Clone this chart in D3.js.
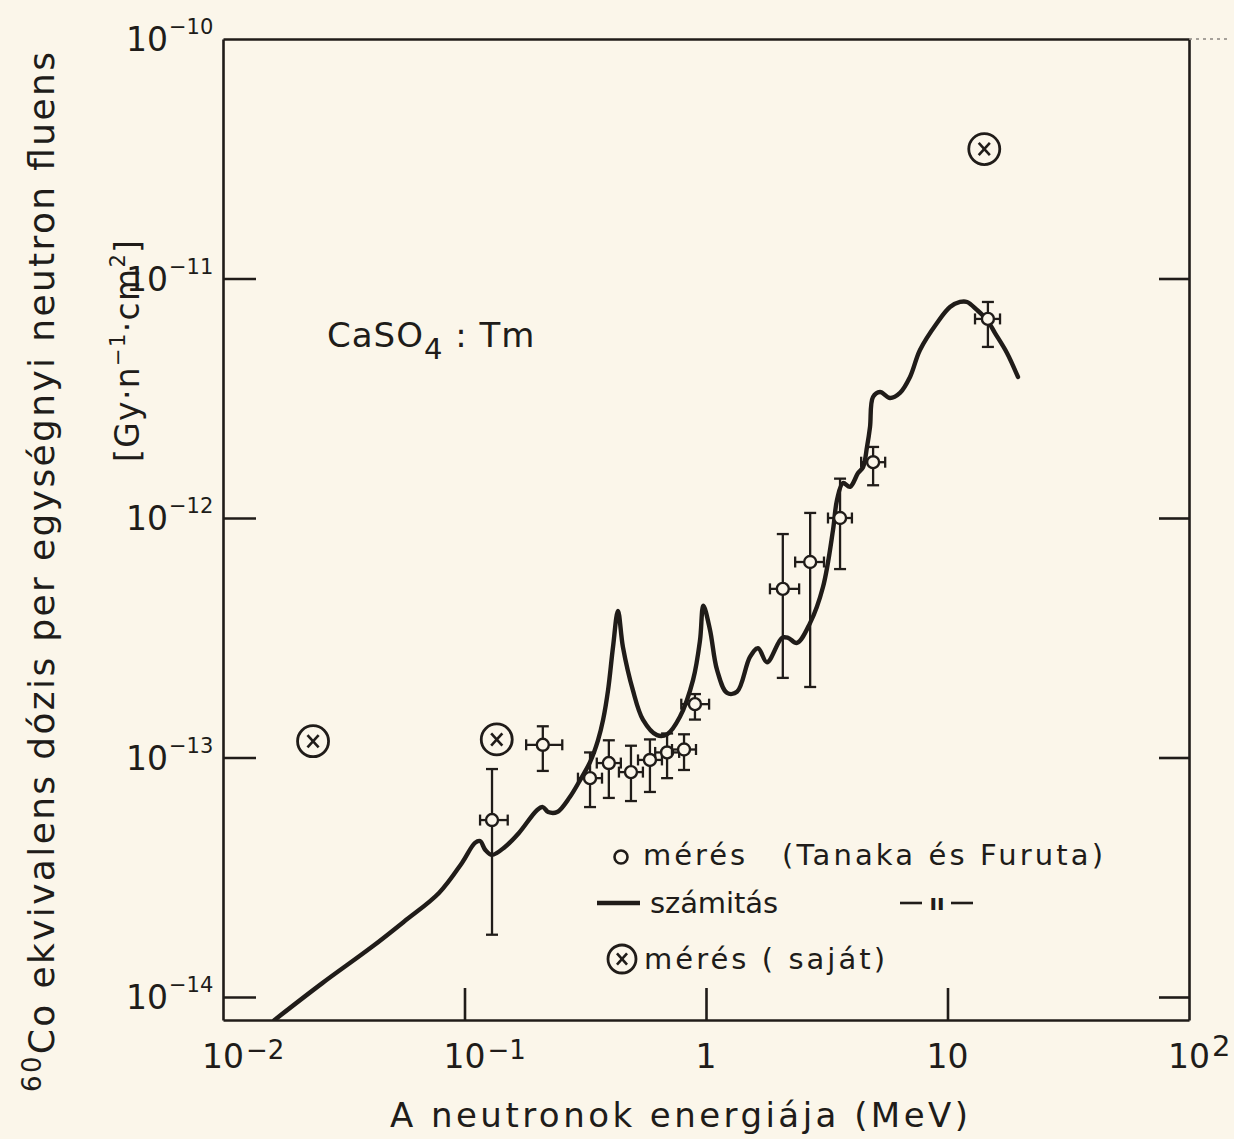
<!DOCTYPE html>
<html>
<head>
<meta charset="utf-8">
<script src="https://cdn.jsdelivr.net/npm/d3@7"></script>
<style>
  body { margin: 0; background: #fbf6ea; }
  svg { display: block; }
  text { font-family: "DejaVu Sans", sans-serif; fill: #201c19; }
</style>
</head>
<body>
<svg id="chart"></svg>
<script>
// számitás (calculated curve)
const calcEnergy = [0.0163, 0.0257, 0.0414, 0.0567, 0.0784, 0.0976, 0.1105, 0.116, 0.122, 0.130, 0.147, 0.168, 0.200, 0.211, 0.222, 0.242, 0.273, 0.301, 0.331, 0.357, 0.375, 0.393, 0.412, 0.432, 0.453, 0.498, 0.548, 0.627, 0.690, 0.780, 0.884, 0.945, 0.975, 1.039, 1.111, 1.222, 1.344, 1.521, 1.642, 1.789, 2.064, 2.186, 2.381, 2.696, 3.051, 3.357, 3.487, 3.692, 3.947, 4.261, 4.469, 4.642, 4.777, 4.915, 5.254, 5.780, 6.358, 6.994, 7.692, 9.047, 10.24, 11.27, 12.04, 13.25, 14.58, 15.73, 17.63, 19.58];
const calcDose = [8.0e-15, 1.14e-14, 1.62e-14, 2.08e-14, 2.72e-14, 3.63e-14, 4.40e-14, 4.48e-14, 4.11e-14, 3.92e-14, 4.23e-14, 4.84e-14, 6.04e-14, 6.21e-14, 5.92e-14, 5.92e-14, 6.84e-14, 8.05e-14, 9.57e-14, 1.18e-13, 1.44e-13, 1.91e-13, 2.89e-13, 4.09e-13, 2.89e-13, 1.91e-13, 1.44e-13, 1.24e-13, 1.25e-13, 1.48e-13, 2.11e-13, 3.10e-13, 4.30e-13, 3.41e-13, 2.32e-13, 1.86e-13, 1.88e-13, 2.63e-13, 2.86e-13, 2.50e-13, 3.16e-13, 3.16e-13, 3.01e-13, 3.64e-13, 5.15e-13, 8.91e-13, 1.19e-12, 1.40e-12, 1.35e-12, 1.54e-12, 1.63e-12, 1.98e-12, 2.40e-12, 3.20e-12, 3.36e-12, 3.17e-12, 3.33e-12, 3.88e-12, 5.03e-12, 6.52e-12, 7.60e-12, 7.98e-12, 7.98e-12, 7.39e-12, 6.71e-12, 5.92e-12, 4.89e-12, 3.88e-12];

// mérés (Tanaka és Furuta) with error bars
const tanakaEnergy = [0.130, 0.211, 0.331, 0.396, 0.489, 0.586, 0.690, 0.811, 0.900, 2.08, 2.70, 3.59, 4.92, 14.7];
const tanakaEnergyLo = [0.116, 0.180, 0.295, 0.353, 0.436, 0.523, 0.616, 0.723, 0.790, 1.84, 2.34, 3.20, 4.39, 13.0];
const tanakaEnergyHi = [0.151, 0.254, 0.371, 0.444, 0.548, 0.657, 0.774, 0.909, 1.03, 2.43, 3.08, 4.02, 5.52, 16.5];
const tanakaDose = [5.48e-14, 1.13e-13, 8.2e-14, 9.48e-14, 8.69e-14, 9.77e-14, 1.05e-13, 1.08e-13, 1.67e-13, 5.06e-13, 6.55e-13, 1.0e-12, 1.71e-12, 6.78e-12];
const tanakaDoseLo = [1.82e-14, 8.79e-14, 6.21e-14, 6.78e-14, 6.58e-14, 7.18e-14, 8.2e-14, 8.87e-14, 1.44e-13, 2.15e-13, 1.97e-13, 6.12e-13, 1.37e-12, 5.18e-12];
const tanakaDoseHi = [8.95e-14, 1.35e-13, 1.05e-13, 1.18e-13, 1.12e-13, 1.19e-13, 1.26e-13, 1.25e-13, 1.84e-13, 8.57e-13, 1.05e-12, 1.46e-12, 1.98e-12, 7.98e-12];

// mérés (saját)
const ownEnergy = [0.0236, 0.136, 14.2];
const ownDose = [1.17e-13, 1.19e-13, 3.47e-11];

const xTickValues = [0.01, 0.1, 1, 10, 100];
const xTickBase = ["10", "10", "1", "10", "10"];
const xTickExp = ["-2", "-1", "", "", "2"];
const yTickValues = [1e-10, 1e-11, 1e-12, 1e-13, 1e-14];
const yTickExp = ["-10", "-11", "-12", "-13", "-14"];

const width = 1234;
const height = 1139;
const ink = "#201c19";
const paper = "#fbf6ea";

const svg = d3.select("#chart")
  .attr("width", width)
  .attr("height", height);

svg.append("rect").attr("width", width).attr("height", height).attr("fill", paper);

const plotLeft = 223, plotRight = 1189, plotTop = 39, plotBottom = 1020;

const x = d3.scaleLog().domain([0.01, 100]).range([plotLeft, plotRight]);
const y = d3.scaleLog().domain([Math.pow(10, -14.096), 1e-10]).range([plotBottom, plotTop]);

// frame + inward ticks
const innerY = [1e-11, 1e-12, 1e-13, 1e-14];
const innerX = [0.1, 1, 10];

svg.append("g")
  .attr("transform", `translate(0,${plotBottom})`)
  .call(d3.axisBottom(x).tickValues(innerX).tickSize(-32).tickSizeOuter(0).tickFormat(""));
svg.append("g")
  .attr("transform", `translate(0,${plotTop})`)
  .call(d3.axisTop(x).tickValues([]).tickSizeOuter(0));
svg.append("g")
  .attr("transform", `translate(${plotLeft},0)`)
  .call(d3.axisLeft(y).tickValues(innerY).tickSize(-33).tickSizeOuter(0).tickFormat(""));
svg.append("g")
  .attr("transform", `translate(${plotRight},0)`)
  .call(d3.axisRight(y).tickValues(innerY).tickSize(-30).tickSizeOuter(0).tickFormat(""));

svg.selectAll(".domain, .tick line")
  .attr("stroke", ink)
  .attr("stroke-width", 2.6);

svg.append("line")
  .attr("x1", plotRight).attr("x2", plotRight + 38)
  .attr("y1", plotTop).attr("y2", plotTop)
  .attr("stroke", "#8a8580")
  .attr("stroke-width", 1.5)
  .attr("stroke-dasharray", "3,4");

// tick labels
xTickValues.forEach((v, i) => {
  const base = svg.append("text")
    .attr("x", x(v))
    .attr("y", 1068)
    .attr("text-anchor", "middle")
    .attr("font-size", 33)
    .text(xTickBase[i]);
  if (xTickExp[i]) {
    const bb = base.node().getBBox();
    svg.append("text")
      .attr("x", bb.x + bb.width + 2)
      .attr("y", xTickExp[i] === "2" ? 1056 : 1059)
      .attr("font-size", xTickExp[i] === "2" ? 29 : 26)
      .text(xTickExp[i].replace("-", "\u2212"));
  }
});

yTickValues.forEach((v, i) => {
  svg.append("text")
    .attr("x", 168)
    .attr("y", y(v) + 12)
    .attr("text-anchor", "end")
    .attr("font-size", 33)
    .text("10");
  svg.append("text")
    .attr("x", 169)
    .attr("y", y(v) - 5)
    .attr("font-size", 21)
    .text(yTickExp[i].replace("-", "\u2212"));
});

// calculated curve
const plot = svg.append("g");
svg.append("clipPath").attr("id", "clip")
  .append("rect")
  .attr("x", plotLeft).attr("y", plotTop)
  .attr("width", plotRight - plotLeft).attr("height", plotBottom - plotTop);

const calcData = calcEnergy.map((e, i) => ({ e, d: calcDose[i] }));
const line = d3.line()
  .x(d => x(d.e))
  .y(d => y(d.d))
  .curve(d3.curveCatmullRom.alpha(0.5));

plot.append("path")
  .datum(calcData)
  .attr("clip-path", "url(#clip)")
  .attr("d", line)
  .attr("fill", "none")
  .attr("stroke", ink)
  .attr("stroke-width", 4.4)
  .attr("stroke-linejoin", "round")
  .attr("stroke-linecap", "round");

// Tanaka points
const tanaka = tanakaEnergy.map((e, i) => ({
  e, d: tanakaDose[i],
  eLo: tanakaEnergyLo[i], eHi: tanakaEnergyHi[i],
  dLo: tanakaDoseLo[i], dHi: tanakaDoseHi[i]
}));

const pts = plot.selectAll(".pt")
  .data(tanaka)
  .join("g")
  .attr("class", "pt")
  .attr("stroke", ink)
  .attr("stroke-width", 2.3);

pts.append("line")
  .attr("x1", d => x(d.e)).attr("x2", d => x(d.e))
  .attr("y1", d => y(d.dLo)).attr("y2", d => y(d.dHi));
pts.append("line")
  .attr("x1", d => x(d.e) - 6).attr("x2", d => x(d.e) + 6)
  .attr("y1", d => y(d.dLo)).attr("y2", d => y(d.dLo));
pts.append("line")
  .attr("x1", d => x(d.e) - 6).attr("x2", d => x(d.e) + 6)
  .attr("y1", d => y(d.dHi)).attr("y2", d => y(d.dHi));
pts.append("line")
  .attr("x1", d => x(d.eLo)).attr("x2", d => x(d.eHi))
  .attr("y1", d => y(d.d)).attr("y2", d => y(d.d));
pts.append("line")
  .attr("x1", d => x(d.eLo)).attr("x2", d => x(d.eLo))
  .attr("y1", d => y(d.d) - 5.5).attr("y2", d => y(d.d) + 5.5);
pts.append("line")
  .attr("x1", d => x(d.eHi)).attr("x2", d => x(d.eHi))
  .attr("y1", d => y(d.d) - 5.5).attr("y2", d => y(d.d) + 5.5);
pts.append("circle")
  .attr("cx", d => x(d.e)).attr("cy", d => y(d.d))
  .attr("r", 6)
  .attr("fill", paper)
  .attr("stroke-width", 2.4);

// own measurements
function crossCircle(g, cx, cy, r) {
  g.append("circle").attr("cx", cx).attr("cy", cy).attr("r", r)
    .attr("fill", "none").attr("stroke", ink).attr("stroke-width", 2.8);
  const k = r * 0.36;
  g.append("line").attr("x1", cx - k).attr("x2", cx + k).attr("y1", cy - k * 1.1).attr("y2", cy + k * 1.1)
    .attr("stroke", ink).attr("stroke-width", 2.6);
  g.append("line").attr("x1", cx + k).attr("x2", cx - k).attr("y1", cy - k * 1.1).attr("y2", cy + k * 1.1)
    .attr("stroke", ink).attr("stroke-width", 2.6);
}
ownEnergy.forEach((e, i) => crossCircle(plot, x(e), y(ownDose[i]), 15.5));

// CaSO4 : Tm label
const lab = svg.append("text")
  .attr("x", 327).attr("y", 347)
  .attr("font-size", 34)
  .attr("letter-spacing", 1);
lab.append("tspan").text("CaSO");
lab.append("tspan").attr("dy", 12).attr("font-size", 29).text("4");
lab.append("tspan").attr("dy", -12).text(" : Tm");

// legend
svg.append("circle").attr("cx", 621).attr("cy", 857).attr("r", 6.5)
  .attr("fill", "none").attr("stroke", ink).attr("stroke-width", 2.6);
svg.append("text").attr("x", 643).attr("y", 865).attr("font-size", 29)
  .attr("textLength", 102).attr("lengthAdjust", "spacing").text("mérés");
svg.append("text").attr("x", 782).attr("y", 865).attr("font-size", 29)
  .attr("textLength", 321).attr("lengthAdjust", "spacing").text("(Tanaka és Furuta)");

svg.append("line").attr("x1", 597).attr("x2", 640).attr("y1", 903).attr("y2", 903)
  .attr("stroke", ink).attr("stroke-width", 4.4);
svg.append("text").attr("x", 650).attr("y", 913).attr("font-size", 29)
  .attr("textLength", 128).attr("lengthAdjust", "spacing").text("számitás");
svg.append("line").attr("x1", 900).attr("x2", 922).attr("y1", 903).attr("y2", 903)
  .attr("stroke", ink).attr("stroke-width", 2.6);
svg.append("line").attr("x1", 951).attr("x2", 973).attr("y1", 903).attr("y2", 903)
  .attr("stroke", ink).attr("stroke-width", 2.6);
svg.append("text").attr("x", 937).attr("y", 910).attr("font-size", 22)
  .attr("font-weight", "bold")
  .attr("text-anchor", "middle").text("ıı");

crossCircle(svg, 622, 959, 14);
svg.append("text").attr("x", 644).attr("y", 969).attr("font-size", 29)
  .attr("textLength", 241).attr("lengthAdjust", "spacing").text("mérés ( saját)");

// axis titles
svg.append("text")
  .attr("x", 390).attr("y", 1127)
  .attr("font-size", 34)
  .attr("textLength", 578).attr("lengthAdjust", "spacing")
  .text("A neutronok energiája  (MeV)");

const yt1 = svg.append("text")
  .attr("transform", "translate(54,1092) rotate(-90)")
  .attr("font-size", 36)
  .attr("textLength", 1040).attr("lengthAdjust", "spacing");
yt1.append("tspan").attr("font-size", 26).attr("dy", -13).text("60");
yt1.append("tspan").attr("dy", 13).text("Co ekvivalens dózis per egységnyi neutron fluens");

const yt2 = svg.append("text")
  .attr("transform", "translate(139,462) rotate(-90)")
  .attr("font-size", 33)
  .attr("textLength", 222).attr("lengthAdjust", "spacing");
yt2.append("tspan").text("[Gy·n");
yt2.append("tspan").attr("font-size", 21).attr("dy", -14).text("\u22121");
yt2.append("tspan").attr("dy", 14).text("·cm");
yt2.append("tspan").attr("font-size", 21).attr("dy", -14).text("2");
yt2.append("tspan").attr("dy", 14).text("]");
</script>
</body>
</html>
